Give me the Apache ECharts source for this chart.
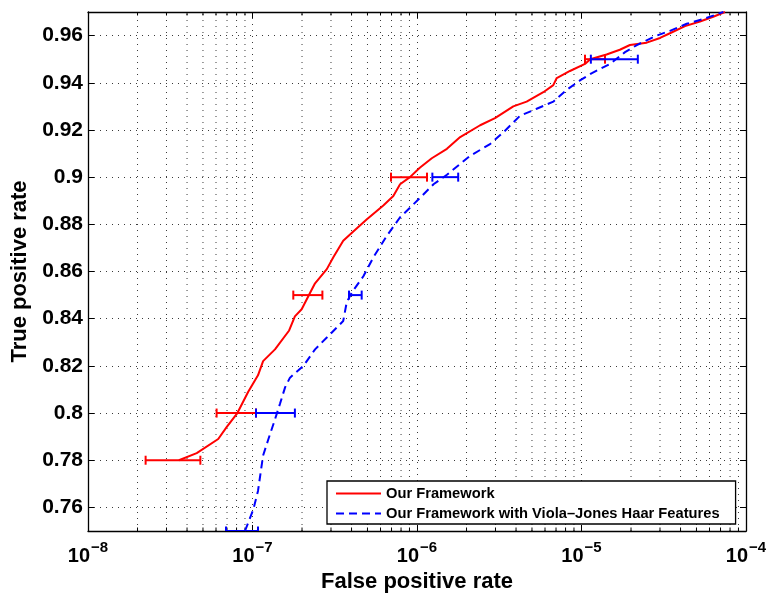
<!DOCTYPE html>
<html>
<head>
<meta charset="utf-8">
<script src="https://cdn.jsdelivr.net/npm/echarts@6/dist/echarts.min.js"></script>
<style>
  html, body { margin: 0; padding: 0; background: #fff; }
  #chart { width: 768px; height: 595px; }
</style>
</head>
<body>
<div id="chart"></div>
<script>
// ROC curves: true positive rate vs. false positive rate (log scale)
const FONT = '"Liberation Sans", Arial, Helvetica, sans-serif';

const fprMin = 1e-8, fprMax = 1e-4;
const tprMin = 0.75, tprMax = 0.97;
const tprTicks = [0.76, 0.78, 0.80, 0.82, 0.84, 0.86, 0.88, 0.90, 0.92, 0.94, 0.96];
const decadeExps = [-8, -7, -6, -5];
const minorMultipliers = [2, 3, 4, 5, 6, 7, 8, 9];

const seriesNames = ['Our Framework', 'Our Framework with Viola\u2013Jones Haar Features'];

// Our Framework
const ourFpr = [3.57e-8, 4.58e-8, 6.19e-8, 6.96e-8, 8.09e-8, 9.42e-8, 1.08e-7, 1.16e-7, 1.37e-7, 1.67e-7,
  1.81e-7, 1.99e-7, 2.24e-7, 2.40e-7, 2.83e-7, 3.10e-7, 3.56e-7, 4.10e-7, 4.94e-7, 6.24e-7,
  7.18e-7, 7.89e-7, 9.06e-7, 1.04e-6, 1.23e-6, 1.52e-6, 1.83e-6, 2.42e-6, 2.98e-6, 3.85e-6,
  4.64e-6, 5.86e-6, 6.74e-6, 7.07e-6, 8.51e-6, 1.05e-5, 1.13e-5, 1.42e-5, 1.71e-5, 1.97e-5,
  2.49e-5, 3.00e-5, 3.45e-5, 4.26e-5, 5.25e-5, 6.32e-5, 7.45e-5];
const ourTpr = [0.780, 0.783, 0.789, 0.794, 0.800, 0.809, 0.816, 0.822, 0.827, 0.835,
  0.841, 0.844, 0.851, 0.855, 0.861, 0.866, 0.873, 0.877, 0.882, 0.888,
  0.892, 0.897, 0.900, 0.904, 0.908, 0.912, 0.917, 0.922, 0.925, 0.930,
  0.932, 0.936, 0.939, 0.942, 0.945, 0.948, 0.950, 0.952, 0.954, 0.956,
  0.957, 0.959, 0.961, 0.964, 0.966, 0.968, 0.970];

// Our Framework with Viola-Jones Haar features
const vjFpr = [9.0e-8, 1.01e-7, 1.08e-7, 1.16e-7, 1.25e-7, 1.35e-7, 1.47e-7, 1.58e-7, 1.69e-7, 2.04e-7,
  2.40e-7, 2.83e-7, 3.56e-7, 3.74e-7, 4.01e-7, 4.72e-7, 5.43e-7, 6.54e-7, 7.89e-7, 9.06e-7,
  1.07e-6, 1.26e-6, 1.52e-6, 2.10e-6, 2.78e-6, 3.35e-6, 4.23e-6, 5.34e-6, 6.74e-6, 8.13e-6,
  9.79e-6, 1.15e-5, 1.49e-5, 1.84e-5, 2.17e-5, 2.86e-5, 3.45e-5, 4.36e-5, 5.50e-5, 7.28e-5];
const vjTpr = [0.750, 0.759, 0.767, 0.782, 0.789, 0.796, 0.804, 0.811, 0.815, 0.820,
  0.827, 0.832, 0.839, 0.847, 0.851, 0.858, 0.866, 0.875, 0.883, 0.887,
  0.892, 0.897, 0.901, 0.909, 0.914, 0.919, 0.926, 0.929, 0.932, 0.937,
  0.941, 0.944, 0.948, 0.953, 0.956, 0.960, 0.962, 0.965, 0.967, 0.970];

// Horizontal error bars (FPR range at fixed TPR)
const ourErrTpr = [0.78, 0.80, 0.85, 0.90, 0.95];
const ourErrLo  = [2.24e-8, 6.05e-8, 1.77e-7, 6.95e-7, 1.05e-5];
const ourErrHi  = [4.82e-8, 1.05e-7, 2.66e-7, 1.15e-6, 1.39e-5];
const vjErrTpr = [0.75, 0.80, 0.85, 0.90, 0.95];
const vjErrLo  = [6.90e-8, 1.05e-7, 3.86e-7, 1.24e-6, 1.14e-5];
const vjErrHi  = [1.08e-7, 1.81e-7, 4.61e-7, 1.78e-6, 2.20e-5];

const RED = '#ff0000', BLUE = '#0000ff';
const GRID_DOT = { color: '#3a3a3a', width: 1, type: [1, 5] };

const minorFpr = [];
decadeExps.forEach(e => minorMultipliers.forEach(m => minorFpr.push(m * Math.pow(10, e))));

const zip = (a, b) => a.map((v, i) => [v, b[i]]);
const errData = (t, lo, hi) => t.map((v, i) => [v, lo[i], hi[i]]);

function errRenderer(color) {
  return function (params, api) {
    const y = api.value(0);
    const a = api.coord([api.value(1), y]);
    const b = api.coord([api.value(2), y]);
    const h = 4.5;
    const style = { stroke: color, lineWidth: 2, fill: null };
    return {
      type: 'group',
      children: [
        { type: 'line', shape: { x1: a[0], y1: a[1], x2: b[0], y2: b[1] }, style },
        { type: 'line', shape: { x1: a[0], y1: a[1] - h, x2: a[0], y2: a[1] + h }, style },
        { type: 'line', shape: { x1: b[0], y1: b[1] - h, x2: b[0], y2: b[1] + h }, style }
      ]
    };
  };
}

// minor log gridlines and inward minor ticks at bottom and top
function minorRenderer(params, api) {
  const v = api.value(0);
  const p0 = api.coord([v, tprMin]);
  const p1 = api.coord([v, tprMax]);
  const t = 3.5;
  const tickStyle = { stroke: '#000', lineWidth: 1 };
  return {
    type: 'group',
    children: [
      { type: 'line', shape: { x1: p0[0], y1: p0[1], x2: p1[0], y2: p1[1] },
        style: { stroke: GRID_DOT.color, lineWidth: 1, lineDash: GRID_DOT.type } },
      { type: 'line', shape: { x1: p0[0], y1: p0[1], x2: p0[0], y2: p0[1] - t }, style: tickStyle },
      { type: 'line', shape: { x1: p1[0], y1: p1[1], x2: p1[0], y2: p1[1] + t }, style: tickStyle }
    ]
  };
}

const axisLineStyle = { color: '#000', width: 1.3 };

const option = {
  animation: false,
  backgroundColor: '#fff',
  textStyle: { fontFamily: FONT },
  grid: { left: 88, right: 22, top: 12, bottom: 64, containLabel: false, outerBoundsMode: 'none' },
  legend: {
    orient: 'vertical',
    left: 327,
    top: 481,
    data: seriesNames,
    itemWidth: 45,
    itemHeight: 14,
    itemGap: 5,
    padding: [5, 16, 3, 8],
    itemStyle: { opacity: 0 },
    backgroundColor: '#fff',
    borderColor: '#000',
    borderWidth: 1.3,
    borderRadius: 0,
    textStyle: { fontFamily: FONT, fontSize: 14.7, fontWeight: 'bold', color: '#000' }
  },
  xAxis: [
    {
      type: 'log', logBase: 10, min: fprMin, max: fprMax,
      name: 'False positive rate', nameLocation: 'middle', nameGap: 35,
      nameTextStyle: { fontFamily: FONT, fontSize: 22, fontWeight: 'bold', color: '#000' },
      axisLine: { show: true, onZero: false, lineStyle: axisLineStyle },
      axisTick: { show: true, inside: true, length: 6, lineStyle: { color: '#000', width: 1 } },
      axisLabel: {
        margin: 15,
        formatter: v => '{b|10}{e|\u2212' + Math.round(-Math.log10(v)) + '}',
        rich: {
          b: { fontFamily: FONT, fontSize: 20, fontWeight: 'bold', color: '#000', lineHeight: 20, verticalAlign: 'bottom' },
          e: { fontFamily: FONT, fontSize: 15, fontWeight: 'bold', color: '#000', lineHeight: 15, verticalAlign: 'bottom', padding: [0, 0, 11, 1] }
        }
      },
      splitLine: { show: true, lineStyle: GRID_DOT },
      minorTick: { show: false },
      minorSplitLine: { show: false }
    },
    {
      type: 'log', logBase: 10, min: fprMin, max: fprMax, position: 'top',
      axisLine: { show: true, onZero: false, lineStyle: axisLineStyle },
      axisTick: { show: true, inside: true, length: 6, lineStyle: { color: '#000', width: 1 } },
      axisLabel: { show: false },
      splitLine: { show: false }
    }
  ],
  yAxis: [
    {
      type: 'value', min: tprMin, max: tprMax,
      name: 'True positive rate', nameLocation: 'middle', nameGap: 53,
      nameTextStyle: { fontFamily: FONT, fontSize: 22, fontWeight: 'bold', color: '#000' },
      axisLine: { show: true, onZero: false, lineStyle: axisLineStyle },
      axisTick: { show: true, inside: true, length: 6, customValues: tprTicks, lineStyle: { color: '#000', width: 1 } },
      axisLabel: {
        customValues: tprTicks, margin: 5,
        fontFamily: FONT, fontSize: 21, fontWeight: 'bold', color: '#000',
        formatter: v => String(Math.round(v * 100) / 100)
      },
      splitLine: { show: true, lineStyle: GRID_DOT }
    },
    {
      type: 'value', min: tprMin, max: tprMax, position: 'right',
      axisLine: { show: true, onZero: false, lineStyle: axisLineStyle },
      axisTick: { show: true, inside: true, length: 6, customValues: tprTicks, lineStyle: { color: '#000', width: 1 } },
      axisLabel: { show: false },
      splitLine: { show: false }
    }
  ],
  series: [
    {
      type: 'custom', name: 'minor-grid', silent: true, z: 1,
      xAxisIndex: 0, yAxisIndex: 0,
      data: minorFpr.map(v => [v, tprMin]),
      encode: { x: 0, y: 1 },
      renderItem: minorRenderer
    },
    {
      type: 'line', name: seriesNames[0], z: 3,
      data: zip(ourFpr, ourTpr),
      symbol: 'none', smooth: false,
      lineStyle: { color: RED, width: 2 },
      itemStyle: { color: RED }
    },
    {
      type: 'custom', name: 'our-err', z: 4, clip: true,
      data: errData(ourErrTpr, ourErrLo, ourErrHi),
      encode: { x: [1, 2], y: 0 },
      renderItem: errRenderer(RED)
    },
    {
      type: 'line', name: seriesNames[1], z: 5,
      data: zip(vjFpr, vjTpr),
      symbol: 'none', smooth: false,
      lineStyle: { color: BLUE, width: 2, type: [8, 5] },
      itemStyle: { color: BLUE }
    },
    {
      type: 'custom', name: 'vj-err', z: 6, clip: true,
      data: errData(vjErrTpr, vjErrLo, vjErrHi),
      encode: { x: [1, 2], y: 0 },
      renderItem: errRenderer(BLUE)
    }
  ]
};

const chart = echarts.init(document.getElementById('chart'), null, { renderer: 'canvas' });
chart.setOption(option);
</script>
</body>
</html>
